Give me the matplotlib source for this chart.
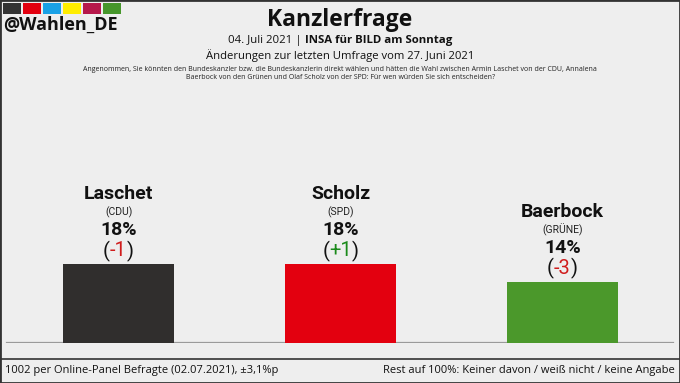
import matplotlib.pyplot as plt
from matplotlib.patches import Rectangle
from matplotlib.lines import Line2D

# data
names = ["Laschet", "Scholz", "Baerbock"]
parties = ["(CDU)", "(SPD)", "(GRÜNE)"]
values = [18, 18, 14]
changes = [-1, 1, -3]
bar_colors = ["#302e2d", "#e3000f", "#4b982b"]
logo_colors = ["#333333", "#e3000f", "#1aa1e6", "#ffed00", "#b6184b", "#46962b"]

W, H = 680, 383
bg = "#eeeeee"

fig = plt.figure(figsize=(W / 100, H / 100), dpi=100, facecolor=bg)

# bar area: baseline at y=343px, 4.39 px per percent
ax = fig.add_axes([0, 40 / H, 1, 253 / H])
ax.set_facecolor(bg)
ax.set_xlim(-118.5 / 222, (W - 118.5) / 222)
ax.set_ylim(0, 253 / 4.39)
ax.axis("off")

x = list(range(len(values)))
bars = ax.bar(x, values, width=0.5, color=bar_colors, zorder=2)
ax.axhline(0, xmin=7 / W, xmax=673 / W, color="#9a9a9a", lw=1.6, zorder=1)

fig.canvas.draw()
r = fig.canvas.get_renderer()
for i, b in enumerate(bars):
    top = (b.get_x() + b.get_width() / 2, b.get_height())
    ax.annotate(names[i], top, xytext=(0, 70), textcoords="offset pixels",
                ha="center", va="center", fontsize=14, fontweight="bold",
                family="Roboto", color="#111111")
    ax.annotate(parties[i], top, xytext=(0, 52), textcoords="offset pixels",
                ha="center", va="center", fontsize=7.5, family="Roboto",
                color="#222222")
    ax.annotate(f"{values[i]}%", top, xytext=(0, 34), textcoords="offset pixels",
                ha="center", va="center", fontsize=14, fontweight="bold",
                family="Roboto", color="#111111")
    c = changes[i]
    num = ax.annotate(f"{c:+d}", top, xytext=(0, 13), textcoords="offset pixels",
                      ha="center", va="center", fontsize=14.5, family="Roboto",
                      color="#1a8a1a" if c > 0 else "#d01c1c")
    bb = num.get_window_extent(r)
    half = bb.width / 2
    ax.annotate("(", top, xytext=(-half, 13), textcoords="offset pixels",
                ha="right", va="center", fontsize=14.5, family="Roboto", color="#111111")
    ax.annotate(")", top, xytext=(half, 13), textcoords="offset pixels",
                ha="left", va="center", fontsize=14.5, family="Roboto", color="#111111")

# logo squares
for k, col in enumerate(logo_colors):
    fig.add_artist(Rectangle(((3 + 20 * k) / W, 1 - 14 / H), 18 / W, 11 / H,
                             transform=fig.transFigure, color=col, lw=0))
fig.text(3 / W, 1 - 25 / H, "@Wahlen_DE", ha="left", va="center", fontsize=13,
         fontweight="bold", family="Open Sans", color="#111111")

# titles
fig.text(0.5, 1 - 20 / H, "Kanzlerfrage", ha="center", va="center", fontsize=16.5,
         fontweight="bold", family="Open Sans", color="#111111")
t1 = fig.text(0.5, 1 - 40 / H, "04. Juli 2021 | ", ha="left", va="center", fontsize=8.2,
              family="Open Sans", color="#111111")
t2 = fig.text(0.5, 1 - 40 / H, "INSA für BILD am Sonntag", ha="left", va="center",
              fontsize=8.2, fontweight="bold", family="Open Sans", color="#111111")
w1 = t1.get_window_extent(r).width
w2 = t2.get_window_extent(r).width
x0 = (W - w1 - w2) / 2
t1.set_x(x0 / W)
t2.set_x((x0 + w1) / W)
fig.text(0.5, 1 - 56 / H, "Änderungen zur letzten Umfrage vom 27. Juni 2021",
         ha="center", va="center", fontsize=8.1, family="Open Sans", color="#111111")
fig.text(0.5, 1 - 73.5 / H,
         "Angenommen, Sie könnten den Bundeskanzler bzw. die Bundeskanzlerin direkt wählen "
         "und hätten die Wahl zwischen Armin Laschet von der CDU, Annalena\n"
         "Baerbock von den Grünen und Olaf Scholz von der SPD: Für wen würden Sie sich entscheiden?",
         ha="center", va="center", fontsize=5.0, family="Open Sans", color="#222222",
         linespacing=1.2)

# footer
fig.add_artist(Line2D([0, 1], [1 - 359 / H] * 2, transform=fig.transFigure,
                      color="#333333", lw=1.2))
fig.text(5 / W, 1 - 371 / H, "1002 per Online-Panel Befragte (02.07.2021), ±3,1%p",
         ha="left", va="center", fontsize=8, family="Open Sans", color="#111111")
fig.text(675 / W, 1 - 371 / H, "Rest auf 100%: Keiner davon / weiß nicht / keine Angabe",
         ha="right", va="center", fontsize=8, family="Open Sans", color="#111111")

# frame
fig.add_artist(Rectangle((0, 0), 1, 1, transform=fig.transFigure, fill=False,
                         edgecolor="#333333", lw=2))

fig.savefig("out.png", dpi=100, facecolor=bg)
